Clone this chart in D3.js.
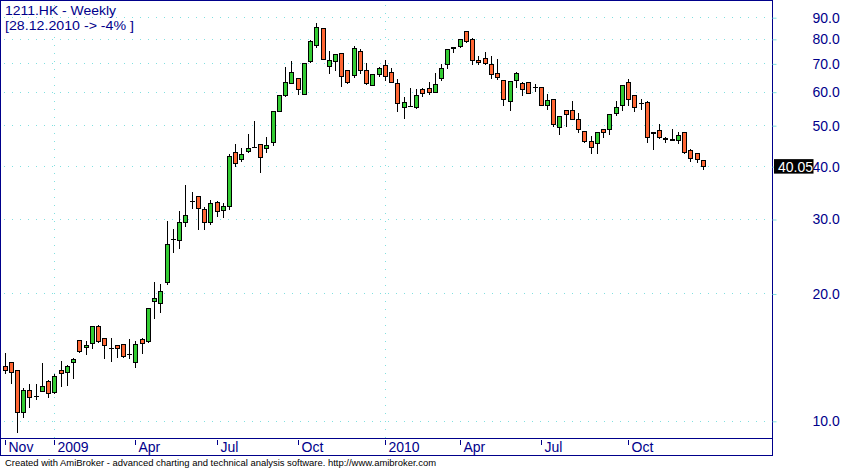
<!DOCTYPE html>
<html><head><meta charset="utf-8">
<script src="https://cdn.jsdelivr.net/npm/d3@7"></script>
<style>
body{margin:0;background:#fff;}
svg{display:block;}
text{font-family:"Liberation Sans",Arial,sans-serif;}
</style>
</head><body>
<svg id="chart" width="841" height="468"></svg>
<script>
// ---- data (weekly bars, Nov 2008 - Dec 2010) ----
const openV = [13.5,13.8,13.2,10.5,11.85,11.45,11.8,12.45,11.7,13.2,13.1,13.83,15.55,14.96,15.3,16.8,15.7,14.93,15.15,15.22,
14.4,13.79,15.65,15.49,19.28,19.0,21.4,26.93,26.87,29.55,33.25,34.1,31.76,29.64,33.0,31.64,32.33,43.24,41.8,43.6,
44.5,45.2,44.34,45.82,54.25,59.17,63.2,64.8,59.5,71.2,77.7,85.0,69.3,71.2,74.25,67.7,66.0,75.2,67.7,62.5,
66.3,69.4,66.9,63.0,55.4,55.6,55.4,61.0,61.3,60.2,64.7,69.8,76.3,77.0,83.8,80.1,71.5,72.3,69.9,66.6,
64.1,57.3,64.0,63.0,63.4,61.8,61.7,56.1,57.8,49.75,54.4,54.4,51.8,48.6,46.0,45.6,49.15,49.0,53.65,55.85,
63.4,59.1,56.5,56.9,48.1,48.9,46.8,46.3,46.2,48.4,43.8,43.1,41.55];
const highV = [14.55,13.85,13.25,12.05,12.3,12.3,13.8,12.6,13.0,13.95,13.68,14.2,15.6,15.6,16.92,17.0,15.75,15.8,15.18,15.32,
15.74,15.6,15.86,18.55,21.46,21.23,29.9,28.65,31.6,36.4,35.1,34.2,32.3,33.55,33.38,33.0,43.1,45.5,44.5,48.0,
51.55,45.3,47.2,54.3,59.4,69.2,71.5,65.3,70.3,80.1,87.9,85.3,75.5,73.9,74.6,68.1,77.6,76.4,70.7,66.6,
69.2,71.7,69.0,64.8,58.7,61.8,61.4,61.65,63.6,66.9,70.3,76.4,76.9,80.3,84.0,81.0,73.4,75.2,73.4,72.3,
64.3,63.8,67.3,63.7,63.5,63.2,62.1,59.7,58.0,52.8,54.5,57.5,53.75,48.9,47.5,48.6,49.2,53.3,57.5,62.5,
64.7,59.2,58.1,57.5,48.5,50.75,47.25,49.3,48.6,48.5,44.26,43.15,41.8];
const lowV = [12.98,12.35,9.45,10.25,10.8,11.3,11.78,11.43,11.68,12.1,12.2,12.68,14.58,14.45,14.93,15.44,14.1,13.86,14.17,14.23,
14.15,13.46,14.54,15.4,17.58,18.16,21.15,25.18,25.73,29.0,32.0,28.55,28.54,29.2,30.58,30.42,31.76,40.15,41.15,43.4,
44.44,38.86,43.3,44.9,54.1,58.85,63.1,59.4,59.4,70.6,76.8,71.9,66.5,67.8,62.1,63.0,65.3,66.5,62.6,62.4,
65.6,64.2,63.4,54.25,52.2,55.55,55.1,58.9,59.5,60.1,64.0,68.6,74.5,76.9,79.0,69.8,70.0,70.1,64.9,64.4,
56.0,54.5,61.8,59.2,59.8,60.5,56.0,54.8,49.9,47.8,49.9,51.8,48.3,45.8,43.15,43.15,47.0,47.8,53.1,54.6,
56.0,54.25,54.8,45.8,44.1,46.75,45.65,46.2,45.4,43.15,41.3,41.1,39.4];
const closeV = [13.25,13.05,10.5,11.85,11.4,11.45,12.1,11.65,12.78,13.03,13.48,14.0,14.7,15.15,16.8,15.46,15.12,14.93,14.88,14.25,
14.4,15.24,15.29,18.53,19.55,20.32,26.25,26.93,29.6,30.75,33.1,31.88,29.64,32.82,31.47,32.28,42.4,40.9,42.8,44.26,
44.55,42.23,44.95,54.15,59.1,63.4,66.95,60.96,70.2,79.26,85.5,72.0,71.3,73.8,65.6,63.5,76.4,67.8,63.0,66.2,
68.5,65.6,63.5,56.7,56.9,55.6,59.1,59.85,60.2,62.7,68.5,75.9,76.7,80.1,79.1,71.4,70.6,70.2,66.4,65.0,
57.7,63.7,66.6,61.2,59.85,61.8,56.1,57.5,50.5,52.7,53.4,51.9,49.1,46.1,44.6,48.4,48.2,53.25,55.35,62.4,
57.7,55.4,56.5,47.1,48.3,47.0,46.6,46.5,47.6,43.4,41.9,41.6,40.05];

const tickLabels = ["Nov","2009","Apr","Jul","Oct","2010","Apr","Jul","Oct"];
const tickBars   = [0, 8, 21, 34, 47, 61, 73, 86, 100];
const yearBars   = [8, 61];
const yTicks     = [10,20,30,40,50,60,70,80,90];
const titleText  = "1211.HK - Weekly";
const subText    = "[28.12.2010 -> -4% ]";
const lastValue  = 40.05;
const footerText = "Created with AmiBroker - advanced charting and technical analysis software. http://www.amibroker.com";

// ---- style ----
const NAVY = "#00008b", GRID = "#80e0e0", UP = "#33cc33", DOWN = "#ff6633";

const svg = d3.select("#chart");
const n = closeV.length;
const x = d3.scaleLinear().domain([0, n - 1]).range([5, 703.4]);
const y = d3.scaleLog().domain([10, 90]).range([421.3, 17.7]);
const px = i => Math.floor(x(i)) + 0.5;
const py = v => Math.round(y(v)) + 0.5;

// grid
const grid = svg.append("g");
grid.selectAll("line.h").data(yTicks).join("line")
  .attr("x1", 4).attr("x2", 772).attr("y1", d => Math.floor(y(d)) + 0.5).attr("y2", d => Math.floor(y(d)) + 0.5)
  .attr("stroke", GRID).attr("stroke-dasharray", "1,7");
grid.selectAll("line.v").data(yearBars).join("line")
  .attr("x1", d => px(d)).attr("x2", d => px(d)).attr("y1", 5).attr("y2", 438)
  .attr("stroke", GRID).attr("stroke-dasharray", "1,7");

// candles
const idx = d3.range(n);
const cg = svg.append("g").attr("shape-rendering", "crispEdges");
cg.selectAll("line.wick").data(idx).join("line")
  .attr("x1", px).attr("x2", px)
  .attr("y1", i => py(highV[i])).attr("y2", i => py(lowV[i]) + 0.5)
  .attr("stroke", "#000");
idx.forEach(i => {
  const o = openV[i], c = closeV[i];
  const top = py(Math.max(o, c)), bot = py(Math.min(o, c));
  const cx = Math.floor(x(i));
  if (bot - top < 1) {
    cg.append("line").attr("x1", cx - 2).attr("x2", cx + 3).attr("y1", top).attr("y2", top).attr("stroke", "#000");
  } else {
    cg.append("rect").attr("x", cx - 1.5).attr("width", 4)
      .attr("y", top).attr("height", bot - top)
      .attr("fill", c >= o ? UP : DOWN).attr("stroke", "#000");
  }
});

// frame
const fr = svg.append("g").attr("shape-rendering", "crispEdges").attr("fill", "none").attr("stroke", NAVY);
fr.append("rect").attr("x", 0.5).attr("y", 0.5).attr("width", 772).attr("height", 438);
fr.append("rect").attr("x", 0.5).attr("y", 438.5).attr("width", 772).attr("height", 17);

// right axis
const ra = svg.append("g").attr("transform", "translate(772.5,0)")
  .call(d3.axisRight(y).tickValues(yTicks).tickFormat(d3.format(".1f")).tickSize(4).tickPadding(36));
ra.select(".domain").remove();
ra.selectAll(".tick line").attr("stroke", GRID);
ra.selectAll(".tick text").attr("fill", NAVY).style("font-size", "14px")
  .style("font-family", "'Liberation Sans',Arial,sans-serif");

// bottom axis
const ba = svg.append("g").attr("transform", "translate(0,440)")
  .call(d3.axisBottom(x).tickValues(tickBars).tickFormat((d, i) => tickLabels[i]).tickSize(5).tickPadding(0));
ba.select(".domain").remove();
ba.selectAll(".tick").attr("transform", d => `translate(${Math.floor(x(d)) + 0.5},0)`);
ba.selectAll(".tick line").attr("stroke", NAVY).attr("shape-rendering", "crispEdges");
ba.selectAll(".tick text").attr("fill", NAVY).attr("text-anchor", "start")
  .attr("x", 3).attr("y", 12).attr("dy", 0)
  .style("font-size", "14px").style("font-family", "'Liberation Sans',Arial,sans-serif");

// last value label
const ly = y(lastValue);
svg.append("rect").attr("x", 774).attr("y", ly - 7.3).attr("width", 39.5).attr("height", 14.5).attr("fill", "#000");
svg.append("text").attr("x", 778).attr("y", ly + 5.3).attr("fill", "#fff").style("font-size", "14px").text(d3.format(".2f")(lastValue));

// titles
svg.append("text").attr("x", 5).attr("y", 14.5).attr("fill", NAVY).style("font-size", "13.5px")
  .attr("textLength", 111).attr("lengthAdjust", "spacingAndGlyphs").text(titleText);
svg.append("text").attr("x", 5).attr("y", 29.8).attr("fill", NAVY).style("font-size", "13.5px")
  .attr("textLength", 129).attr("lengthAdjust", "spacingAndGlyphs").text(subText);

// footer
svg.append("text").attr("x", 5).attr("y", 466).attr("fill", "#000").style("font-size", "9.5px")
  .attr("textLength", 431).attr("lengthAdjust", "spacingAndGlyphs").text(footerText);
</script>
</body></html>
